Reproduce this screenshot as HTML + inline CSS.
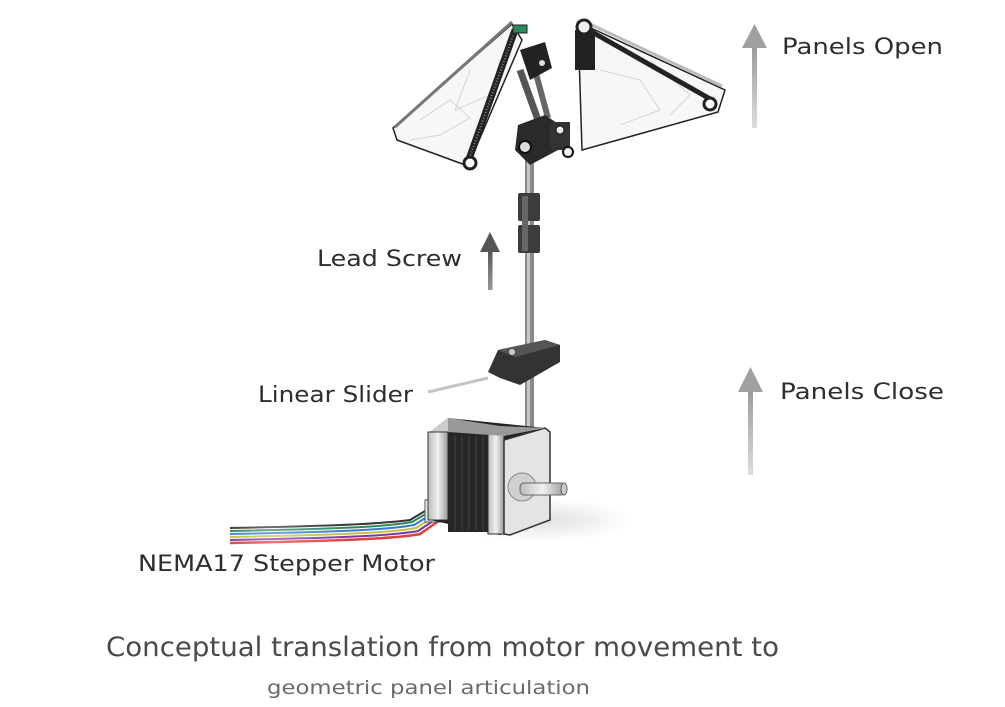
<!DOCTYPE html>
<html><head><meta charset="utf-8"><style>
html,body{margin:0;padding:0;background:#fff;}
svg{display:block}
text{font-family:"DejaVu Sans","Liberation Sans",sans-serif;}
</style></head><body>
<svg width="1005" height="707" viewBox="0 0 1005 707" xmlns="http://www.w3.org/2000/svg">
<defs>
<linearGradient id="ag" x1="0" y1="1" x2="0" y2="0"><stop offset="0" stop-color="#ddd"/><stop offset="1" stop-color="#9a9a9a"/></linearGradient>
<linearGradient id="ag2" x1="0" y1="1" x2="0" y2="0"><stop offset="0" stop-color="#999"/><stop offset="1" stop-color="#555"/></linearGradient>
<linearGradient id="wire" x1="0" y1="0" x2="1" y2="0"><stop offset="0" stop-color="#fff" stop-opacity="0"/><stop offset="0.4" stop-color="#fff" stop-opacity="0.3"/><stop offset="1" stop-color="#fff" stop-opacity="0"/></linearGradient>
<linearGradient id="metal" x1="0" y1="0" x2="1" y2="0"><stop offset="0" stop-color="#bbb"/><stop offset="0.5" stop-color="#f2f2f2"/><stop offset="1" stop-color="#999"/></linearGradient>
<radialGradient id="shadow" cx="0.5" cy="0.5" r="0.5"><stop offset="0" stop-color="#000" stop-opacity="0.12"/><stop offset="1" stop-color="#000" stop-opacity="0"/></radialGradient>
</defs>

<rect x="752" y="46" width="5" height="82" fill="url(#ag)"/>
<polygon points="754.5,24 742,48 767,48" fill="#a0a0a0"/>
<rect x="748" y="390" width="5" height="85" fill="url(#ag)"/>
<polygon points="750.5,367 738,392 763,392" fill="#a0a0a0"/>
<rect x="488" y="250" width="4.5" height="40" fill="url(#ag2)"/>
<polygon points="490,232 480,252 500,252" fill="#555"/>
<line x1="428" y1="392" x2="488" y2="378" stroke="#c4c4c4" stroke-width="3"/>

<ellipse cx="540" cy="520" rx="95" ry="22" fill="url(#shadow)"/>

<rect x="525" y="160" width="9" height="290" fill="#8a8a8a"/>
<rect x="527" y="160" width="3" height="290" fill="#c8c8c8"/>
<rect x="518" y="193" width="22" height="28" rx="2" fill="#3c3c3c"/>
<rect x="518" y="225" width="22" height="28" rx="2" fill="#3c3c3c"/>
<rect x="522" y="196" width="6" height="55" fill="#666"/>

<polygon points="393,128 512,24 522,40 468,166 397,140" fill="#f7f7f7" stroke="#222" stroke-width="1.5"/>
<polyline points="420,120 450,100 470,118 440,135 410,140" fill="none" stroke="#ccc" stroke-width="0.8"/>
<polyline points="470,70 455,110 490,95 500,60" fill="none" stroke="#ccc" stroke-width="0.8"/>
<line x1="395" y1="127" x2="512" y2="22" stroke="#777" stroke-width="3"/>
<line x1="515" y1="30" x2="468" y2="162" stroke="#222" stroke-width="7"/>
<line x1="515" y1="30" x2="468" y2="162" stroke="#888" stroke-width="2" stroke-dasharray="1 2"/>
<circle cx="470" cy="163" r="6" fill="#fff" stroke="#222" stroke-width="3"/>
<rect x="513" y="25" width="14" height="8" fill="#2a8a5a" stroke="#222"/>
<polygon points="578,22 725,90 718,112 582,150" fill="#f7f7f7" stroke="#222" stroke-width="1.5"/>
<polyline points="600,70 640,80 660,110 620,125" fill="none" stroke="#ccc" stroke-width="0.8"/>
<polyline points="650,60 690,95 670,115" fill="none" stroke="#ccc" stroke-width="0.8"/>
<line x1="585" y1="28" x2="712" y2="100" stroke="#222" stroke-width="5"/>
<line x1="590" y1="24" x2="722" y2="86" stroke="#bbb" stroke-width="3"/>
<rect x="575" y="30" width="20" height="40" fill="#222"/>
<circle cx="584" cy="27" r="7" fill="#eee" stroke="#222" stroke-width="3"/>
<circle cx="710" cy="104" r="6" fill="#fff" stroke="#222" stroke-width="3"/>
<line x1="520" y1="70" x2="538" y2="120" stroke="#555" stroke-width="7"/>
<line x1="535" y1="70" x2="548" y2="118" stroke="#666" stroke-width="6"/>
<polygon points="520,50 545,42 552,68 530,80" fill="#222"/>
<circle cx="542" cy="63" r="3" fill="#ddd"/>
<polygon points="518,125 545,115 560,125 558,150 530,165 515,150" fill="#2a2a2a"/>
<circle cx="525" cy="147" r="6" fill="#ddd" stroke="#111" stroke-width="2"/>
<rect x="550" y="122" width="20" height="28" fill="#333"/>
<circle cx="560" cy="130" r="4" fill="#eee" stroke="#111"/>
<circle cx="568" cy="152" r="5" fill="#eee" stroke="#111" stroke-width="2"/>

<polygon points="498,350 545,340 560,345 560,362 520,385 500,378 488,372" fill="#333"/>
<polygon points="498,350 545,340 560,345 515,357" fill="#555"/>
<circle cx="512" cy="352" r="3" fill="#ccc"/>

<path d="M230,528 C330,526 380,524 410,520 L435,505" stroke="#333" stroke-width="2" fill="none"/>
<path d="M230,531 C330,529 385,527 412,522 L436,508" stroke="#2a8a5a" stroke-width="2" fill="none"/>
<path d="M230,534 C330,532 388,530 414,525 L437,511" stroke="#3a7ad0" stroke-width="2" fill="none"/>
<path d="M230,537 C330,535 390,533 416,528 L438,514" stroke="#c8c040" stroke-width="2" fill="none"/>
<path d="M230,540 C330,538 392,536 418,531 L439,517" stroke="#7a3aa0" stroke-width="2" fill="none"/>
<path d="M230,543 C330,541 395,539 420,534 L440,520" stroke="#e04040" stroke-width="2.5" fill="none"/>
<rect x="220" y="520" width="130" height="30" fill="url(#wire)"/>
<rect x="425" y="500" width="18" height="22" fill="#eee" stroke="#555"/>

<polygon points="430,432 448,418 545,428 545,520 500,535 430,520" fill="#222"/>
<polygon points="430,432 448,418 462,420 447,434" fill="#ccc"/>
<rect x="428" y="432" width="20" height="88" fill="url(#metal)" stroke="#333"/>
<rect x="448" y="434" width="40" height="98" fill="#262626"/>
<g stroke="#444" stroke-width="1"><line x1="455" y1="436" x2="455" y2="530"/><line x1="462" y1="436" x2="462" y2="530"/><line x1="469" y1="436" x2="469" y2="530"/><line x1="476" y1="436" x2="476" y2="530"/><line x1="483" y1="436" x2="483" y2="530"/></g>
<rect x="488" y="434" width="16" height="100" fill="url(#metal)" stroke="#333"/>
<polygon points="504,440 545,428 550,432 550,520 510,535 504,534" fill="#e4e4e4" stroke="#333" stroke-width="1.5"/>
<polygon points="448,418 500,426 545,428 504,436 448,432" fill="#999"/>
<circle cx="522" cy="487" r="14" fill="#d0d0d0" stroke="#888"/>
<rect x="520" y="483" width="45" height="12" rx="4" fill="url(#metal)" stroke="#666"/>
<ellipse cx="564" cy="489" rx="3" ry="6" fill="#ccc" stroke="#666"/>

<g fill="#2e2e2e" font-size="22">
<text x="782" y="54" textLength="161" lengthAdjust="spacingAndGlyphs">Panels Open</text>
<text x="780" y="399" textLength="164" lengthAdjust="spacingAndGlyphs">Panels Close</text>
<text x="317" y="266" textLength="145" lengthAdjust="spacingAndGlyphs">Lead Screw</text>
<text x="258" y="402" textLength="155" lengthAdjust="spacingAndGlyphs">Linear Slider</text>
<text x="138" y="571" textLength="297" lengthAdjust="spacingAndGlyphs">NEMA17 Stepper Motor</text>
</g>
<text x="106" y="656" font-size="27" fill="#4a4a4a" textLength="673" lengthAdjust="spacingAndGlyphs">Conceptual translation from motor movement to</text>
<text x="267" y="694" font-size="19" fill="#6a6a6a" textLength="323" lengthAdjust="spacingAndGlyphs">geometric panel articulation</text>
</svg>
</body></html>
